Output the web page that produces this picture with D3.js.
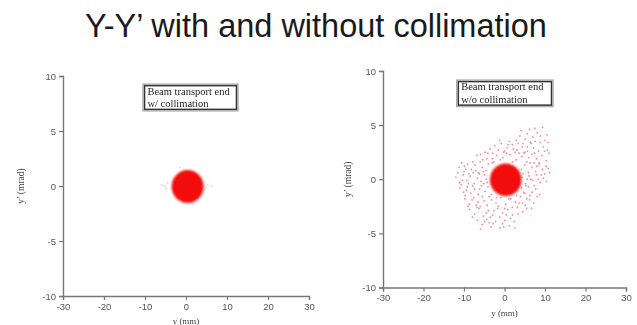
<!DOCTYPE html>
<html><head><meta charset="utf-8">
<script src="https://cdn.jsdelivr.net/npm/d3@7"></script>
<style>
html,body{margin:0;padding:0;background:#fff;}
svg{display:block;}
</style></head>
<body>
<svg id="chart" width="637" height="325"></svg>
<script>
// ---------- data ----------
const title = "Y-Y\u2019 with and without collimation";
const xTicks = [-30, -20, -10, 0, 10, 20, 30];
const yTicks = [-10, -5, 0, 5, 10];
const xLabel = "y (mm)";
const yLabel = "y\u2019 (mrad)";
const panelNotes = [["Beam transport end", "w/ collimation"], ["Beam transport end", "w/o collimation"]];
// beam core (dense filled region): centre and half-widths in mm / mrad
const coreLeft = {cx: 0.4, cy: -0.05, rx: 3.9, ry: 1.5};
const coreRight = {cx: 0.3, cy: -0.05, rx: 3.9, ry: 1.5};
// sparse particles outside the core, with collimation
const haloLeft = [[-5.2,0.0],[5.3,0.1],[-4.8,-0.2],[4.9,-0.1],[-4.5,0.3],[4.6,-0.3],[-1.5,1.7],[1.8,-1.7],[-6.0,0.1],[6.2,0.0]];
// sparse particles outside the core, without collimation
const haloRight = [
 [6.2,4.6],[8.1,4.3],[9.4,4.8],[7.0,3.9],[5.1,3.7],[9.9,3.6],[3.8,4.0],[8.8,3.4],[6.6,3.3],[10.5,4.1],[4.6,3.3],[2.9,3.6],
 [-2.4,3.1],[-0.8,3.3],[0.6,2.9],[1.9,3.2],[3.1,2.7],[4.4,3.0],[5.7,2.6],[7.2,2.9],[8.4,2.6],[9.6,3.0],[10.6,2.7],[-1.5,2.7],[2.6,2.5],[6.4,3.4],[-3.6,2.8],[1.2,3.5],
 [-6.8,2.2],[-5.4,1.8],[-4.1,2.4],[-3.0,1.9],[-1.9,2.2],[-0.4,2.0],[1.4,2.3],[2.9,1.8],[4.3,2.1],[5.5,1.6],[6.7,2.3],[7.9,1.9],[9.2,2.2],[10.3,1.7],[11.0,2.4],[-6.0,1.6],[-4.8,2.5],[0.5,2.4],[3.6,2.4],[8.6,1.5],[-2.6,1.6],[5.1,2.5],[7.3,1.5],
 [-11.2,1.1],[-10.0,0.7],[-9.1,1.4],[-8.2,0.9],[-7.3,1.3],[-6.4,0.6],[-5.5,1.1],[-4.6,0.8],[-4.0,1.4],[4.2,0.9],[5.0,1.3],[5.9,0.6],[6.8,1.1],[7.7,0.7],[8.5,1.4],[9.4,0.9],[10.3,1.2],[11.1,0.6],[-8.8,0.5],[-10.6,1.5],[-7.7,0.6],[6.3,1.5],[9.9,0.5],
 [-12.0,0.2],[-11.1,-0.3],[-10.2,0.4],[-9.3,-0.1],[-8.5,0.3],[-7.5,-0.4],[-6.7,0.1],[-5.8,-0.2],[-4.9,0.4],[-4.3,-0.3],[4.3,0.2],[5.2,-0.4],[6.1,0.3],[7.0,-0.1],[7.9,0.4],[8.8,-0.3],[9.6,0.1],[10.4,-0.2],[-10.7,-0.5],[-6.2,0.5],[5.6,0.0],[8.3,0.0],
 [-11.0,-0.8],[-10.1,-1.2],[-9.2,-0.7],[-8.3,-1.3],[-7.4,-0.9],[-6.5,-1.4],[-5.7,-0.6],[-4.8,-1.1],[-4.1,-0.7],[4.2,-0.8],[5.0,-1.3],[5.9,-0.7],[6.8,-1.2],[7.7,-0.9],[8.7,-1.4],[-9.7,-1.5],[-7.9,-0.6],[6.3,-1.5],[-3.2,-1.4],
 [-9.8,-1.8],[-8.7,-2.3],[-7.6,-1.7],[-6.5,-2.1],[-5.4,-1.6],[-4.3,-2.4],[-3.2,-1.9],[-2.1,-2.2],[-0.9,-1.7],[0.3,-2.3],[1.5,-1.8],[2.7,-2.1],[3.9,-1.6],[5.1,-2.4],[6.2,-1.9],[7.2,-2.2],[-9.0,-2.5],[-6.0,-2.5],[-1.5,-2.5],[4.4,-2.2],[-3.8,-1.6],
 [-8.6,-2.8],[-7.4,-3.2],[-6.3,-2.7],[-5.2,-3.4],[-4.0,-2.9],[-2.9,-3.3],[-1.7,-2.7],[-0.5,-3.1],[0.8,-2.8],[2.0,-3.3],[3.2,-2.6],[4.5,-3.0],[-7.9,-3.5],[-3.5,-3.5],[1.5,-3.6],[-6.8,-2.6],[5.4,-2.7],
 [-6.7,-3.8],[-5.5,-4.2],[-4.4,-3.7],[-3.3,-4.4],[-2.2,-3.9],[-1.1,-4.5],[0.1,-3.8],[1.2,-4.3],[2.4,-3.9],[-5.9,-4.6],[-3.8,-4.0],[-0.5,-4.1],
 [-4.5,0.0],[4.6,0.5],[-3.0,1.5],[3.0,-1.5],[-1.0,1.8],[1.0,-1.8],[2.0,1.6],[-2.0,-1.7],[0.0,2.6],[0.0,-2.7],[-5.2,0.7],[5.3,-0.6],
 [-11.5,0.6],[-10.4,-0.1],[-9.6,0.9],[-8.9,-0.4],[-7.1,0.8],[-6.1,-0.9],[-5.1,-0.4],[-9.4,-1.0],[-8.0,-1.9],[-7.0,-2.4],[-5.0,-2.0],[-4.5,-3.1],[-2.6,-2.9],[-1.2,-3.5],[0.4,-3.3],[1.9,-2.6],[3.6,-2.2],[-2.8,-4.1],[-4.9,-3.9],[-0.2,-4.4],
 [5.6,3.0],[7.6,3.5],[8.9,4.0],[9.9,2.6],[10.8,3.4],[7.4,2.4],[6.0,2.0],[4.8,2.4],[3.4,3.3],[2.2,2.8],[0.9,3.2],[-0.2,2.5],[-1.2,3.6],[-2.9,2.4],[-4.4,1.9],[-5.9,2.3],[-7.8,1.6],[-9.9,1.2],
 [8.0,1.2],[9.1,0.4],[10.8,1.0],[6.5,0.0],[7.3,-0.6],[8.1,-1.6],[5.5,-1.8],[4.7,-1.2],[6.7,-2.7],[3.3,-3.2],[2.6,-4.5],[7.5,4.7],[5.6,4.2],[4.1,4.5]
];

// ---------- layout ----------
const svg = d3.select("#chart");
const defs = svg.append("defs");
defs.append("filter").attr("id","soft").attr("x","-20%").attr("y","-20%").attr("width","140%").attr("height","140%")
  .append("feGaussianBlur").attr("stdDeviation", 1.1);
defs.append("filter").attr("id","haze")
  .append("feGaussianBlur").attr("stdDeviation", 0.45);
defs.append("filter").attr("id","dots")
  .append("feGaussianBlur").attr("stdDeviation", 0.7);

svg.append("text")
  .attr("x", 316).attr("y", 37)
  .attr("text-anchor","middle")
  .attr("font-family","Liberation Sans, Arial, sans-serif")
  .attr("font-size", 32.5)
  .attr("fill","#1a1a1a")
  .text(title);

const panels = [
  {x0:63, x1:309, yTop:76, yBot:296, core:coreLeft, halo:haloLeft, haloOpacity:0.25, note:panelNotes[0],
   box:[-10.5, 9.27, 12.7, 6.82], lines:[94.5, 106.5], xLabY:324, yLabX:24},
  {x0:383, x1:626, yTop:71, yBot:287.5, core:coreRight, halo:haloRight, haloOpacity:0.55, note:panelNotes[1],
   box:[-11.8, 9.17, 12.0, 6.7], lines:[90, 102.5], xLabY:315.5, yLabX:351}
];

panels.forEach(p => {
  const x = d3.scaleLinear().domain([-30,30]).range([p.x0, p.x1]);
  const y = d3.scaleLinear().domain([-10,10]).range([p.yBot, p.yTop]);
  const g = svg.append("g").attr("filter","url(#haze)");

  // halo particles
  g.append("g").attr("filter","url(#dots)").selectAll("circle").data(p.halo).join("circle")
    .attr("cx", d => x(d[0])).attr("cy", d => y(d[1]))
    .attr("r", 0.9)
    .attr("fill", "#e8303a").attr("opacity", p.haloOpacity);

  // core
  g.append("ellipse")
    .attr("cx", x(p.core.cx)).attr("cy", y(p.core.cy))
    .attr("rx", x(p.core.cx + p.core.rx) - x(p.core.cx))
    .attr("ry", y(p.core.cy) - y(p.core.cy + p.core.ry))
    .attr("fill", "#f20d0d")
    .attr("filter","url(#soft)");

  // axes
  const fmt = d => String(d);
  const xAxis = d3.axisBottom(x).tickValues(xTicks).tickFormat(fmt).tickSize(4).tickPadding(3);
  const yAxis = d3.axisLeft(y).tickValues(yTicks).tickFormat(fmt).tickSize(4).tickPadding(3);
  const gx = g.append("g").attr("transform", `translate(0,${p.yBot})`).call(xAxis);
  const gy = g.append("g").attr("transform", `translate(${p.x0},0)`).call(yAxis);
  [gx, gy].forEach(a => {
    a.select(".domain").attr("stroke","#777").attr("stroke-width",1.4);
    a.selectAll(".tick line").attr("stroke","#777").attr("stroke-width",1.2);
    a.selectAll(".tick text").attr("fill","#555")
      .attr("font-family","Liberation Sans, Arial, sans-serif").attr("font-size",9.5);
  });

  g.append("text")
    .attr("x", (p.x0 + p.x1)/2).attr("y", p.xLabY)
    .attr("text-anchor","middle")
    .attr("font-family","Liberation Serif, Times New Roman, serif")
    .attr("font-size", 9).attr("fill","#444")
    .text(xLabel);
  g.append("text")
    .attr("transform", `translate(${p.yLabX},${(p.yTop+p.yBot)/2}) rotate(-90)`)
    .attr("text-anchor","middle")
    .attr("font-family","Liberation Serif, Times New Roman, serif")
    .attr("font-size", 9.5).attr("fill","#444")
    .text(yLabel);

  // annotation box
  const bx0 = x(p.box[0]), by0 = y(p.box[1]), bx1 = x(p.box[2]), by1 = y(p.box[3]);
  g.append("rect").attr("x", bx0).attr("y", by0).attr("width", bx1-bx0).attr("height", by1-by0)
    .attr("fill","#fff").attr("stroke","#999").attr("stroke-width",1);
  g.append("rect").attr("x", bx0+1.6).attr("y", by0+1.6).attr("width", bx1-bx0-3.2).attr("height", by1-by0-3.2)
    .attr("fill","none").attr("stroke","#333").attr("stroke-width",1.5);
  p.note.forEach((t,i) => {
    g.append("text")
      .attr("x", bx0 + 4.5).attr("y", p.lines[i])
      .attr("font-family","Liberation Serif, Times New Roman, serif")
      .attr("font-size", 10.5).attr("fill","#222")
      .text(t);
  });
});
</script>
</body></html>
